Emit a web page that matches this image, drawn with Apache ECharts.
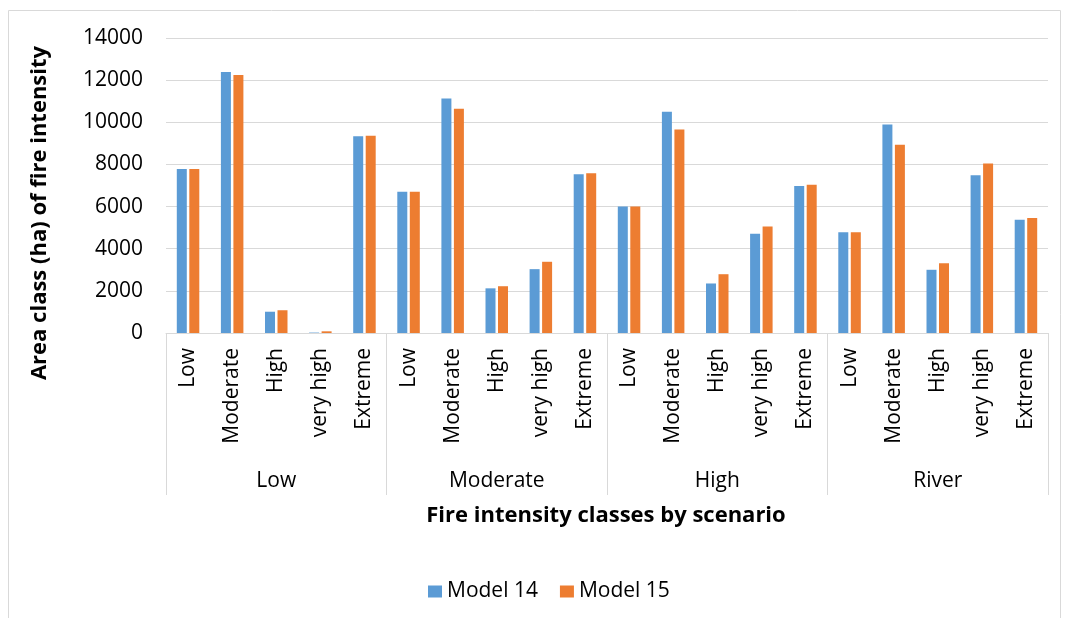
<!DOCTYPE html>
<html>
<head>
<meta charset="utf-8">
<script src="https://cdn.jsdelivr.net/npm/echarts@6/dist/echarts.min.js"></script>
<style>
html,body{margin:0;padding:0;background:#fff;}
#chart{width:1068px;height:618px;}
</style>
</head>
<body>
<div id="chart"></div>
<script>
const classes = ['Low', 'Moderate', 'High', 'very high', 'Extreme'];
const scenarios = ['Low', 'Moderate', 'High', 'River'];
const model14 = [7780, 12390, 1010, 20, 9340,
                 6700, 11130, 2120, 3030, 7530,
                 6000, 10500, 2350, 4710, 6980,
                 4780, 9900, 3000, 7490, 5370];
const model15 = [7780, 12250, 1080, 80, 9360,
                 6700, 10640, 2220, 3380, 7580,
                 6000, 9660, 2790, 5060, 7030,
                 4780, 8930, 3310, 8050, 5460];
const yTicks = {min: 0, max: 14000, interval: 2000};
const seriesNames = ['Model 14', 'Model 15'];
const colors = ['#5B9BD5', '#ED7D31'];

const categories = [];
scenarios.forEach(function (s) { classes.forEach(function (c) { categories.push(c); }); });

const FONT = '"Open Sans", Lato, sans-serif';
const chart = echarts.init(document.getElementById('chart'));
chart.setOption({
  animation: false,
  color: colors,
  textStyle: {fontFamily: FONT},
  grid: {left: 166, right: 20, top: 38, bottom: 285, containLabel: false},
  xAxis: [{
    type: 'category',
    data: categories,
    axisLine: {show: true, lineStyle: {color: '#d9d9d9', width: 1}},
    axisTick: {show: false},
    axisLabel: {rotate: 90, margin: 15, fontSize: 21, color: '#000', fontFamily: FONT, interval: 0}
  }, {
    type: 'category',
    data: scenarios,
    position: 'bottom',
    axisLine: {show: false},
    axisTick: {show: true, length: 162, lineStyle: {color: '#d9d9d9', width: 1}, alignWithLabel: false},
    axisLabel: {margin: 138, fontSize: 21, color: '#000', fontFamily: FONT, interval: 0},
    splitLine: {show: false}
  }],
  yAxis: {
    type: 'value',
    min: yTicks.min, max: yTicks.max, interval: yTicks.interval,
    axisLine: {show: false},
    axisTick: {show: false},
    axisLabel: {margin: 23, fontSize: 21, color: '#000', fontFamily: FONT,
      formatter: function (v) { return String(v); }},
    splitLine: {lineStyle: {color: '#d9d9d9', width: 1}}
  },
  legend: {
    data: seriesNames,
    top: 576,
    left: 423,
    icon: 'rect',
    itemWidth: 14,
    itemHeight: 12,
    itemGap: 22,
    textStyle: {fontSize: 21, color: '#000', fontFamily: FONT}
  },
  graphic: [
    {type: 'rect', shape: {x: 8.5, y: 10.5, width: 1052, height: 640}, style: {fill: 'none', stroke: '#d9d9d9', lineWidth: 1}, silent: true},
    {type: 'text', x: 40, y: 213, rotation: Math.PI / 2,
     style: {text: 'Area class (ha) of fire intensity', fontSize: 22, fontWeight: 'bold', fontFamily: FONT, fill: '#000', textAlign: 'center', textVerticalAlign: 'middle'}},
    {type: 'text', x: 606, y: 516,
     style: {text: 'Fire intensity classes by scenario', fontSize: 22, fontWeight: 'bold', fontFamily: FONT, fill: '#000', textAlign: 'center', textVerticalAlign: 'middle'}}
  ],
  series: [{
    name: seriesNames[0], type: 'bar', data: model14, barWidth: 10, barGap: '25%',
    itemStyle: {color: colors[0]}
  }, {
    name: seriesNames[1], type: 'bar', data: model15, barWidth: 10, barGap: '25%',
    itemStyle: {color: colors[1]}
  }]
});
</script>
</body>
</html>
